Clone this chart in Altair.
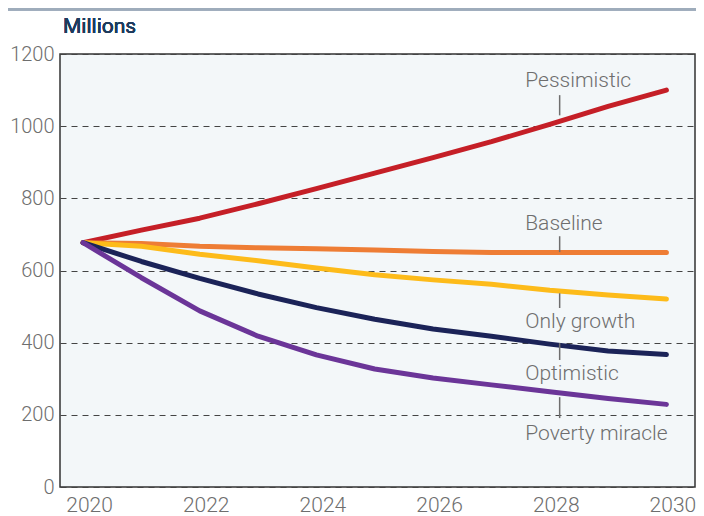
import altair as alt
import pandas as pd

years = [2020, 2021, 2022, 2023, 2024, 2025, 2026, 2027, 2028, 2029, 2030]
pessimistic = [677, 712, 745, 785, 827, 870, 913, 957, 1005, 1055, 1100]
baseline = [677, 675, 667, 663, 660, 657, 653, 650, 650, 650, 650]
only_growth = [677, 667, 645, 627, 607, 588, 574, 562, 545, 532, 521]
optimistic = [677, 625, 578, 535, 497, 465, 438, 418, 396, 377, 367]
poverty_miracle = [677, 580, 488, 418, 366, 327, 302, 283, 264, 245, 229]

scenarios = ["Pessimistic", "Baseline", "Only growth", "Optimistic", "Poverty miracle"]
colors = ["#C51F27", "#EE7D35", "#FDBB1A", "#1B2358", "#6B3598"]

# annotation anchors (year, value) and leader-tick spans
label_year = [2027.58, 2027.58, 2027.58, 2027.58, 2027.58]
label_value = [1109, 713, 440, 296, 130]
tick_year = [2028.17, 2028.17, 2028.17, 2028.17, 2028.17]
tick_top = [1086, 695, 537, 399, 249]
tick_bottom = [1030, 651, 496, 352, 191]

y_ticks = [0, 200, 400, 600, 800, 1000, 1200]
x_ticks = [2020, 2022, 2024, 2026, 2028, 2030]

series = [pessimistic, baseline, only_growth, optimistic, poverty_miracle]
rows = []
for name, vals in zip(scenarios, series):
    for yr, v in zip(years, vals):
        rows.append({"year": yr, "value": v, "scenario": name})
df = pd.DataFrame(rows)

ann = pd.DataFrame({
    "scenario": scenarios,
    "lx": label_year,
    "ly": label_value,
    "tx": tick_year,
    "t1": tick_top,
    "t2": tick_bottom,
})

FONT = "Roboto, sans-serif"
GRAY = "#6e6e6e"
x_scale = alt.Scale(domain=[2019.605, 2030.49], nice=False, zero=False)
y_scale = alt.Scale(domain=[0, 1200], nice=False)
color_scale = alt.Scale(domain=scenarios, range=colors)

lines = alt.Chart(df).mark_line(strokeWidth=5, strokeCap="round", strokeJoin="round").encode(
    x=alt.X("year:Q", scale=x_scale, title=None,
            axis=alt.Axis(values=x_ticks, format="d", grid=False, domain=False, ticks=False,
                          labelFont=FONT, labelFontSize=21, labelColor=GRAY, labelPadding=7,
                          labelOffset=6, labelFontWeight=300)),
    y=alt.Y("value:Q", scale=y_scale, title=None,
            axis=alt.Axis(values=y_ticks, format="d", grid=True, gridDash=[6, 5], gridColor="#444444",
                          gridWidth=1, domain=False, ticks=False,
                          labelFont=FONT, labelFontSize=20, labelColor=GRAY, labelPadding=6,
                          labelFontWeight=300)),
    color=alt.Color("scenario:N", scale=color_scale, legend=None),
    detail="scenario:N",
)

ticks = alt.Chart(ann).mark_rule(color=GRAY, strokeWidth=1.5).encode(
    x=alt.X("tx:Q", scale=x_scale),
    y=alt.Y("t1:Q", scale=y_scale),
    y2="t2:Q",
)

labels = alt.Chart(ann).mark_text(align="left", baseline="alphabetic", font=FONT,
                                  fontSize=21, fontWeight=300, color=GRAY).encode(
    x=alt.X("lx:Q", scale=x_scale),
    y=alt.Y("ly:Q", scale=y_scale),
    text="scenario:N",
)

top_rule = alt.Chart(ann).mark_rule(color="#9eacbb", strokeWidth=3).encode(
    x=alt.value(-60), x2=alt.value(700), y=alt.value(-45),
)

title = alt.Chart(ann).mark_text(align="left", baseline="alphabetic", font=FONT,
                                 fontSize=21, color="#1D3B5E").encode(
    x=alt.value(3), y=alt.value(-21), text=alt.value("Millions"),
)

chart = alt.layer(top_rule, lines, ticks, labels, title).properties(
    width=635,
    height=433,
    autosize=alt.AutoSizeParams(type="none"),
    padding={"left": 52, "top": 46, "right": 1, "bottom": 29},
).configure_view(
    fill="#F3F7F9", stroke="#333333", strokeWidth=1.5,
)

chart.save("out.html", embed_options={"renderer": "svg", "actions": False})
